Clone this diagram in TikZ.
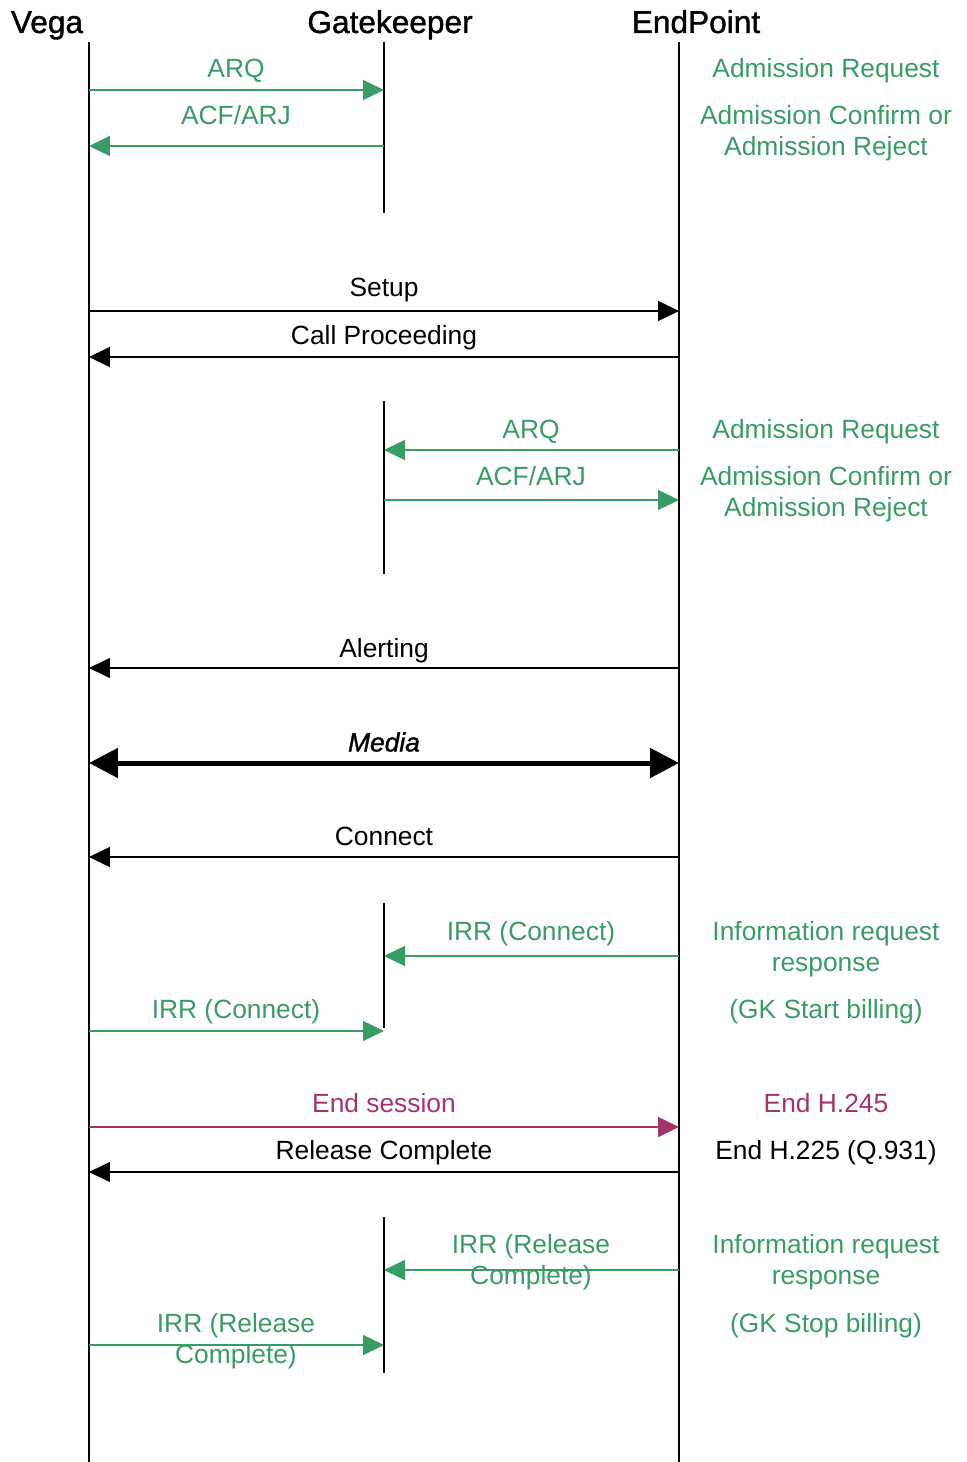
\documentclass[tikz,border=0pt]{standalone}
\usepackage{fontspec}
\setmainfont{Liberation Sans}
\newfontfamily\titlefont[FakeBold=1.2]{Liberation Sans}
\usetikzlibrary{positioning, arrows.meta}
\definecolor{msggreen}{RGB}{56,156,102}
\definecolor{msgpurple}{RGB}{163,52,105}

\begin{document}
\begin{tikzpicture}
    [
        x=0.02cm, y=-0.02cm,
        title_node/.style={font=\titlefont\fontsize{18}{21}\selectfont, inner sep=0pt, anchor=base},
        msg_text/.style={font=\fontsize{15}{17.6}\selectfont, inner sep=0pt, align=center},
        black_text/.style={msg_text, anchor=base, yshift=-1.9mm, text=black},
        green_text/.style={black_text, text=msggreen},
        purple_text/.style={black_text, text=msgpurple},
        green_lines/.style={msg_text, yshift=-0.6mm, text=msggreen},
        lifeline/.style={line width=0.4mm, color=black},
        black_msg/.style={-{Triangle[length=4.2mm, width=4mm]}, line width=0.3mm, color=black},
        green_msg/.style={black_msg, color=msggreen},
        purple_msg/.style={black_msg, color=msgpurple},
        media_msg/.style={{Triangle[length=5.8mm, width=5.8mm]}-{Triangle[length=5.8mm, width=5.8mm]}, line width=1mm, color=black},
    ]
        \useasboundingbox (0,0) rectangle (966,1462) ;
        % participants
        \node[title_node] (vega) at (47,33) {Vega} ;
        \node[title_node] (gk) at (390,33) {Gatekeeper} ;
        \node[title_node] (ep) at (696,33) {EndPoint} ;
        \coordinate (v) at (89,0) ;
        \coordinate (g) at (384,0) ;
        \coordinate (e) at (679,0) ;
        % lifelines
        \draw[lifeline] (v |- 0,42) -- (v |- 0,1462) ;
        \draw[lifeline] (e |- 0,42) -- (e |- 0,1462) ;
        \draw[lifeline] (g |- 0,42) -- (g |- 0,213) ;
        \draw[lifeline] (g |- 0,401) -- (g |- 0,574) ;
        \draw[lifeline] (g |- 0,903) -- (g |- 0,1028) ;
        \draw[lifeline] (g |- 0,1217) -- (g |- 0,1373) ;
        % admission of vega
        \draw[green_msg] (v |- 0,90) -- (g |- 0,90) ;
        \node[green_text] (arq1) at (236,68) {ARQ} ;
        \draw[green_msg] (g |- 0,146) -- (v |- 0,146) ;
        \node[green_text] (acf1) at (236,115) {ACF/ARJ} ;
        \node[green_text] (adreq1) at (826,68) {Admission Request} ;
        \node[green_lines] (adconf1) at (826,130.5) {Admission Confirm or\\Admission Reject} ;
        % call setup
        \draw[black_msg] (v |- 0,311) -- (e |- 0,311) ;
        \node[black_text] (setup) at (384,287) {Setup} ;
        \draw[black_msg] (e |- 0,357) -- (v |- 0,357) ;
        \node[black_text] (callproc) at (384,335) {Call Proceeding} ;
        % admission of endpoint
        \draw[green_msg] (e |- 0,450) -- (g |- 0,450) ;
        \node[green_text] (arq2) at (531,429) {ARQ} ;
        \draw[green_msg] (g |- 0,500) -- (e |- 0,500) ;
        \node[green_text] (acf2) at (531,476) {ACF/ARJ} ;
        \node[green_text] (adreq2) at (826,429) {Admission Request} ;
        \node[green_lines] (adconf2) at (826,491.5) {Admission Confirm or\\Admission Reject} ;
        % alerting, media, connect
        \draw[black_msg] (e |- 0,668) -- (v |- 0,668) ;
        \node[black_text] (alert) at (384,648) {Alerting} ;
        \draw[media_msg] (v |- 0,763) -- (e |- 0,763) ;
        \node[black_text] (media) at (384,742) {\titlefont\itshape Media} ;
        \draw[black_msg] (e |- 0,857) -- (v |- 0,857) ;
        \node[black_text] (connect) at (384,836) {Connect} ;
        % start billing
        \draw[green_msg] (e |- 0,956) -- (g |- 0,956) ;
        \node[green_text] (irr1) at (531,931) {IRR (Connect)} ;
        \draw[green_msg] (v |- 0,1031) -- (g |- 0,1031) ;
        \node[green_text] (irr2) at (236,1009) {IRR (Connect)} ;
        \node[green_lines] (inforeq1) at (826,946.5) {Information request\\response} ;
        \node[green_text] (startbill) at (826,1009) {(GK Start billing)} ;
        % release
        \draw[purple_msg] (v |- 0,1127) -- (e |- 0,1127) ;
        \node[purple_text] (endsess) at (384,1103) {End session} ;
        \draw[black_msg] (e |- 0,1172) -- (v |- 0,1172) ;
        \node[black_text] (relcomp) at (384,1150) {Release Complete} ;
        \node[purple_text] (endh245) at (826,1103) {End H.245} ;
        \node[black_text] (endh225) at (826,1150) {End H.225 (Q.931)} ;
        % stop billing
        \draw[green_msg] (e |- 0,1270) -- (g |- 0,1270) ;
        \node[green_lines] (irr3) at (531,1259.5) {IRR (Release\\Complete)} ;
        \draw[green_msg] (v |- 0,1345) -- (g |- 0,1345) ;
        \node[green_lines] (irr4) at (236,1338) {IRR (Release\\Complete)} ;
        \node[green_lines] (inforeq2) at (826,1259.5) {Information request\\response} ;
        \node[green_text] (stopbill) at (826,1323) {(GK Stop billing)} ;
    \end{tikzpicture}
\end{document}
